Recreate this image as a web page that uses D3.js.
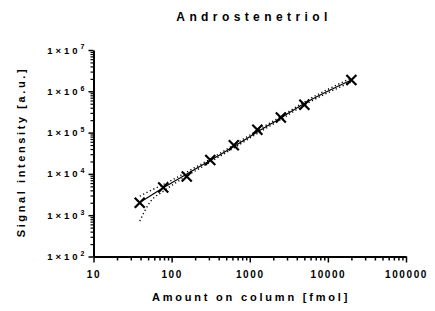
<!DOCTYPE html>
<html>
<head>
<meta charset="utf-8">
<script src="https://cdn.jsdelivr.net/npm/d3@7"></script>
<style>
  body { margin: 0; background: #fff; }
  text { font-family: "Liberation Sans", Arial, sans-serif; font-weight: bold; fill: #000; }
</style>
</head>
<body>
<svg id="chart" width="435" height="311"></svg>
<script>
// measured points
var amounts = [39.0625, 78.125, 156.25, 312.5, 625, 1250, 2500, 5000, 20000];
var signals = [2010, 4690, 8650, 21700, 49500, 117000, 232000, 470000, 1880000];

// fitted line and dotted bands
var fitX = [39.0625, 53, 78.125, 156.25, 312.5, 625, 1250, 2500, 5000, 20000];
var fitY = [2030, 2920, 4600, 9950, 21100, 46000, 103500, 226000, 507000, 1880000];
var bandUpper = [2900, 3900, 5500, 11100, 22960, 50100, 112500, 245500, 551000, 2100000];
var bandLower = [720, 2090, 3790, 8890, 19400, 42400, 95100, 207700, 466000, 1680000];

var xTicks = [10, 100, 1000, 10000, 100000];
var yTicks = [1e2, 1e3, 1e4, 1e5, 1e6, 1e7];

var svg = d3.select("#chart");

var x = d3.scaleLog().domain([10, 100000]).range([93.5, 406]);
var y = d3.scaleLog().domain([100, 1e7]).range([256.5, 50]);

function minors(lo, hi){
  var out = [];
  for (var d = lo; d < hi; d *= 10){
    for (var k = 2; k < 10; k++) out.push(d * k);
  }
  return out;
}

// minor ticks
svg.append("g")
  .attr("transform", "translate(0,256.5)")
  .call(d3.axisBottom(x).tickValues(minors(10, 100000)).tickSize(4).tickFormat(""))
  .call(function(g){ g.select(".domain").remove(); g.selectAll("line").attr("stroke-width", 1.5); });

svg.append("g")
  .attr("transform", "translate(93.5,0)")
  .call(d3.axisLeft(y).tickValues(minors(100, 1e7)).tickSize(3).tickFormat(""))
  .call(function(g){ g.select(".domain").remove(); g.selectAll("line").attr("stroke-width", 1.2); });

// major x axis
var xAxis = svg.append("g")
  .attr("transform", "translate(0,256.5)")
  .call(d3.axisBottom(x).tickValues(xTicks).tickSize(6).tickSizeOuter(0).tickPadding(8)
    .tickFormat(function(d){ return String(d); }));
xAxis.select(".domain").attr("stroke-width", 2);
xAxis.selectAll("line").attr("stroke-width", 1.5);
xAxis.selectAll("text").attr("font-size", 10).style("letter-spacing", "1.6px");

// major y axis
var yAxis = svg.append("g")
  .attr("transform", "translate(93.5,0)")
  .call(d3.axisLeft(y).tickValues(yTicks).tickSize(5).tickSizeOuter(0).tickPadding(4).tickFormat(""));
yAxis.select(".domain").attr("stroke-width", 2);
yAxis.selectAll("line").attr("stroke-width", 1.5);

yAxis.selectAll(".tick").append("text")
  .attr("x", -6).attr("dy", "0.32em")
  .attr("text-anchor", "end")
  .attr("font-size", 9.5)
  .style("letter-spacing", "3px")
  .each(function(d){
    var t = d3.select(this);
    t.append("tspan").text("1\u00d710");
    t.append("tspan").attr("font-size", 7).attr("dy", "-0.6em").text(Math.round(Math.log10(d)));
  });

// fit and bands
var line = d3.line()
  .x(function(d){ return x(d[0]); })
  .y(function(d){ return y(d[1]); })
  .curve(d3.curveMonotoneX);

svg.append("path")
  .datum(d3.zip(fitX, fitY))
  .attr("d", line).attr("fill", "none").attr("stroke", "#000").attr("stroke-width", 1.2);

[bandUpper, bandLower].forEach(function(b){
  svg.append("path")
    .datum(d3.zip(fitX, b))
    .attr("d", line).attr("fill", "none").attr("stroke", "#000")
    .attr("stroke-width", 1.4).attr("stroke-dasharray", "1.2,2.6");
});

// markers
var s = 5;
svg.append("g").selectAll("path")
  .data(d3.zip(amounts, signals)).enter()
  .append("path")
  .attr("d", function(d){
    var cx = x(d[0]), cy = y(d[1]);
    return "M" + (cx - s) + "," + (cy - s) + "L" + (cx + s) + "," + (cy + s) +
           "M" + (cx - s) + "," + (cy + s) + "L" + (cx + s) + "," + (cy - s);
  })
  .attr("stroke", "#000").attr("stroke-width", 2.2).attr("fill", "none");

// titles
svg.append("text")
  .attr("x", 254).attr("y", 21)
  .attr("text-anchor", "middle").attr("font-size", 12)
  .style("letter-spacing", "4.4px")
  .text("Androstenetriol");

svg.append("text")
  .attr("x", 251).attr("y", 301)
  .attr("text-anchor", "middle").attr("font-size", 11)
  .style("letter-spacing", "2.8px")
  .text("Amount on column [fmol]");

svg.append("text")
  .attr("transform", "translate(25,152) rotate(-90)")
  .attr("text-anchor", "middle").attr("font-size", 11)
  .style("letter-spacing", "2.6px")
  .text("Signal intensity [a.u.]");
</script>
</body>
</html>
